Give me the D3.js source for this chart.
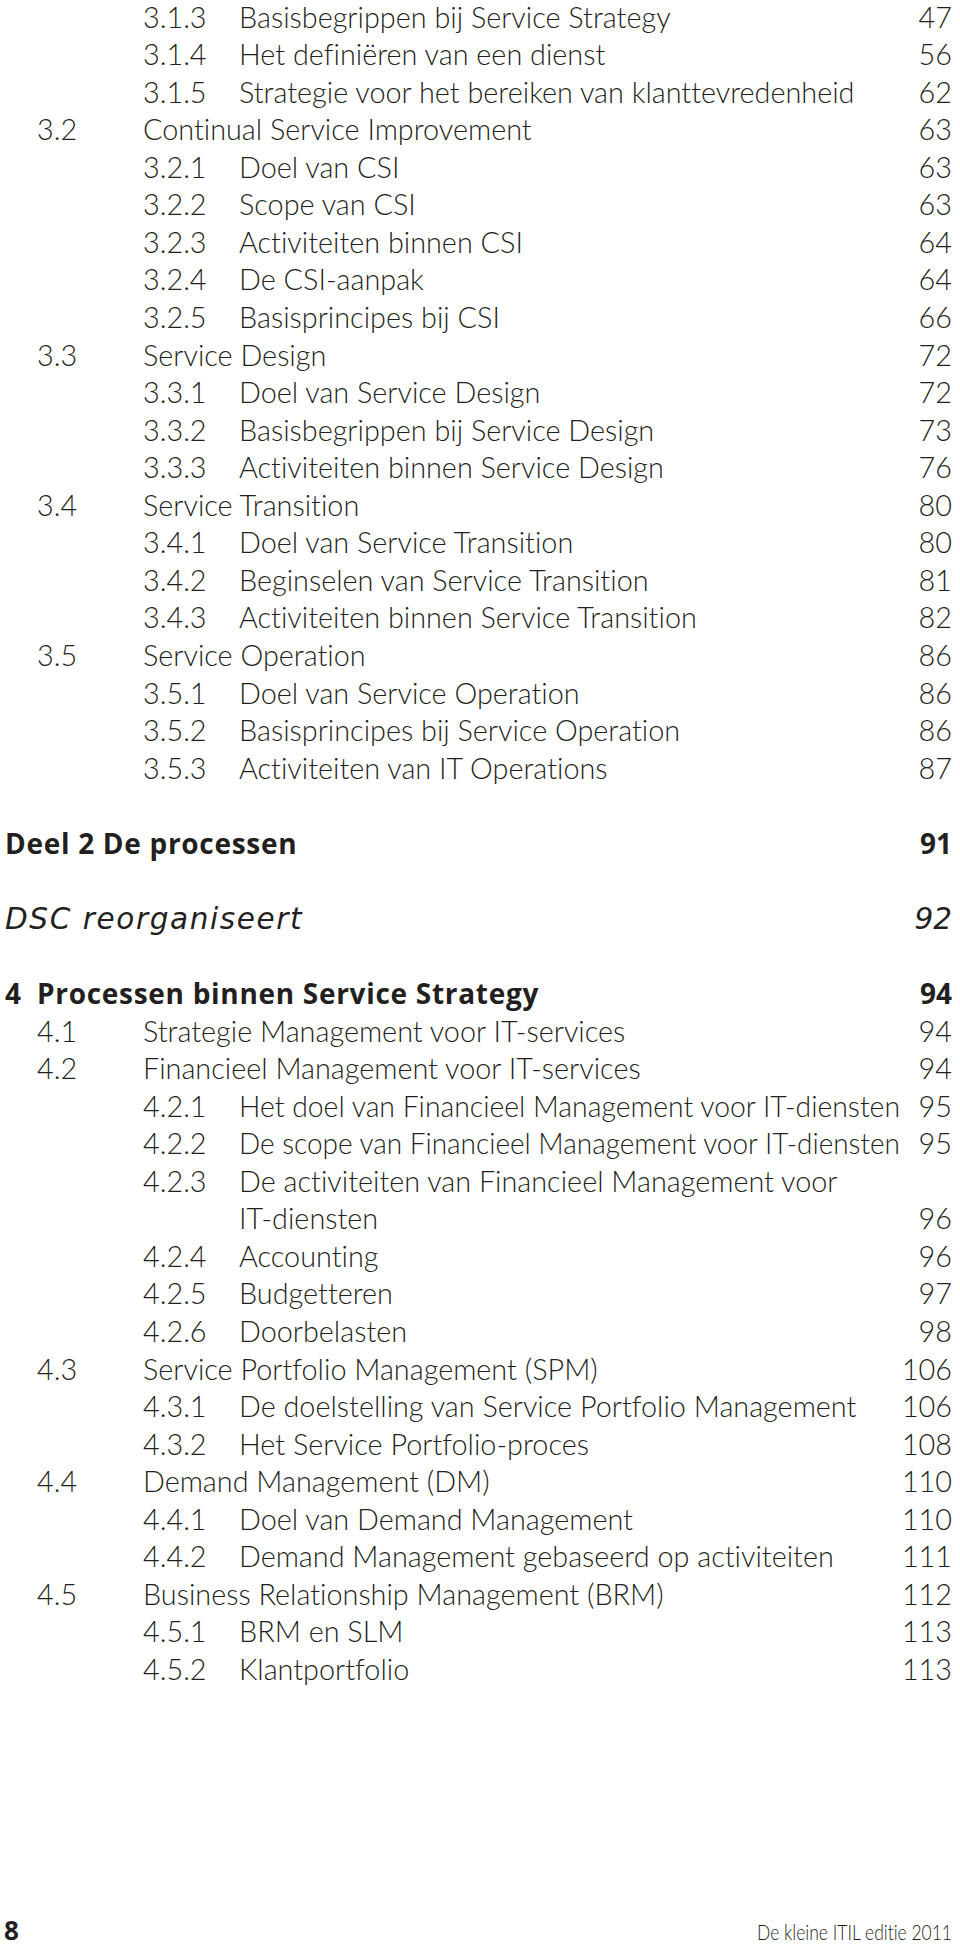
<!DOCTYPE html>
<html>
<head>
<meta charset="utf-8">
<script src="https://cdn.jsdelivr.net/npm/d3@7"></script>
<style>
  html, body { margin: 0; padding: 0; background: #fff; }
  svg { display: block; }
  text { font-variant-ligatures: none; font-feature-settings: "liga" 0, "clig" 0, "dlig" 0; }
</style>
</head>
<body>
<script>
// ---- data ----
const lineIndex = [0,1,2,3,4,5,6,7,8,9,10,11,12,13,14,15,16,17,18,19,20,
                   22,24,26,27,28,29,30,31,32,33,34,35,36,37,38,39,40,41,42,43,44];
const levels = ["h3","h3","h3","h2","h3","h3","h3","h3","h3","h2","h3","h3","h3","h2","h3","h3","h3","h2","h3","h3","h3",
                "part","story","chapter","h2","h2","h3","h3","h3","cont","h3","h3","h3","h2","h3","h3","h2","h3","h3","h2","h3","h3"];
const numbers = ["3.1.3","3.1.4","3.1.5","3.2","3.2.1","3.2.2","3.2.3","3.2.4","3.2.5","3.3","3.3.1","3.3.2","3.3.3",
                 "3.4","3.4.1","3.4.2","3.4.3","3.5","3.5.1","3.5.2","3.5.3",
                 "","","4","4.1","4.2","4.2.1","4.2.2","4.2.3","","4.2.4","4.2.5","4.2.6","4.3","4.3.1","4.3.2",
                 "4.4","4.4.1","4.4.2","4.5","4.5.1","4.5.2"];
const titles = ["Basisbegrippen bij Service Strategy","Het definiëren van een dienst",
                "Strategie voor het bereiken van klanttevredenheid","Continual Service Improvement",
                "Doel van CSI","Scope van CSI","Activiteiten binnen CSI","De CSI-aanpak","Basisprincipes bij CSI",
                "Service Design","Doel van Service Design","Basisbegrippen bij Service Design","Activiteiten binnen Service Design",
                "Service Transition","Doel van Service Transition","Beginselen van Service Transition","Activiteiten binnen Service Transition",
                "Service Operation","Doel van Service Operation","Basisprincipes bij Service Operation","Activiteiten van IT Operations",
                "Deel 2 De processen","DSC reorganiseert","Processen binnen Service Strategy",
                "Strategie Management voor IT-services","Financieel Management voor IT-services",
                "Het doel van Financieel Management voor IT-diensten","De scope van Financieel Management voor IT-diensten",
                "De activiteiten van Financieel Management voor","IT-diensten",
                "Accounting","Budgetteren","Doorbelasten","Service Portfolio Management (SPM)",
                "De doelstelling van Service Portfolio Management","Het Service Portfolio-proces",
                "Demand Management (DM)","Doel van Demand Management","Demand Management gebaseerd op activiteiten",
                "Business Relationship Management (BRM)","BRM en SLM","Klantportfolio"];
const pages = ["47","56","62","63","63","63","64","64","66","72","72","73","76","80","80","81","82","86","86","86","87",
               "91","92","94","94","94","95","95","","96","96","97","98","106","106","108","110","110","111","112","113","113"];
const footerPage = "8";
const footerTitle = "De kleine ITIL editie 2011";

// ---- layout ----
const W = 960, H = 1949;
const ink = "#231f20";
const lightFont = "Lato, 'Open Sans', sans-serif";
const heavyFont = "'Open Sans', Lato, sans-serif";
const italicFont = "'DejaVu Sans', 'Open Sans', sans-serif";
const fs = 28.8;
const svg = d3.select("body").append("svg").attr("width", W).attr("height", H);

const y = d3.scaleLinear().domain([0, 44]).range([27.5, 1680]);
const col = d3.scaleOrdinal()
  .domain(["part","chapter","h2","h3"])
  .range([5, 37, 143, 239]);
const rightEdge = 952;

const rows = lineIndex.map((li, i) => ({li, level: levels[i], num: numbers[i], title: titles[i], page: pages[i]}));

function numX(d) {
  if (d.level === "part" || d.level === "story" || d.level === "chapter") return col("part");
  if (d.level === "h2") return col("chapter");
  return col("h2");
}
function titleX(d) {
  if (d.level === "part" || d.level === "story") return col("part");
  if (d.level === "chapter") return col("chapter");
  if (d.level === "h2") return col("h2");
  return col("h3");
}
const isBold = d => d.level === "part" || d.level === "chapter";
const isItalic = d => d.level === "story";
const fam = d => isItalic(d) ? italicFont : (isBold(d) ? heavyFont : lightFont);
const weight = d => isBold(d) ? 700 : (isItalic(d) ? 400 : 300);
const size = d => isBold(d) ? 28 : (isItalic(d) ? 29.5 : fs);
const fstyle = d => isItalic(d) ? "italic" : "normal";

const g = svg.append("g").attr("fill", ink);

const row = g.selectAll("g.row").data(rows).join("g").attr("class", "row")
  .attr("transform", d => `translate(0,${y(d.li)})`);

function styleText(sel) {
  sel.attr("font-family", fam)
    .attr("font-size", size)
    .attr("font-weight", weight)
    .attr("font-style", fstyle);
}

row.filter(d => d.num).append("text")
  .attr("x", numX)
  .call(styleText)
  .text(d => d.num);

row.append("text")
  .attr("class", "title")
  .attr("x", titleX)
  .call(styleText)
  .attr("letter-spacing", d => isBold(d) ? 0.7 : (isItalic(d) ? 1.6 : 0))
  .text(d => d.title)
  .each(function(d) {
    const maxW = rightEdge - 52 - titleX(d);
    const len = this.getComputedTextLength();
    if (len > maxW) {
      d3.select(this).attr("textLength", maxW).attr("lengthAdjust", "spacingAndGlyphs");
    }
  });

row.filter(d => d.page).append("text")
  .attr("x", rightEdge)
  .attr("text-anchor", "end")
  .call(styleText)
  .text(d => d.page);

// footer
svg.append("text")
  .attr("x", 4).attr("y", 1940)
  .attr("font-family", heavyFont).attr("font-size", 26).attr("font-weight", 700)
  .attr("fill", ink)
  .text(footerPage);
svg.append("text")
  .attr("x", 952).attr("y", 1940)
  .attr("text-anchor", "end")
  .attr("font-family", lightFont).attr("font-size", 21).attr("font-weight", 300)
  .attr("fill", ink)
  .attr("textLength", 195).attr("lengthAdjust", "spacingAndGlyphs")
  .text(footerTitle);
</script>
</body>
</html>
